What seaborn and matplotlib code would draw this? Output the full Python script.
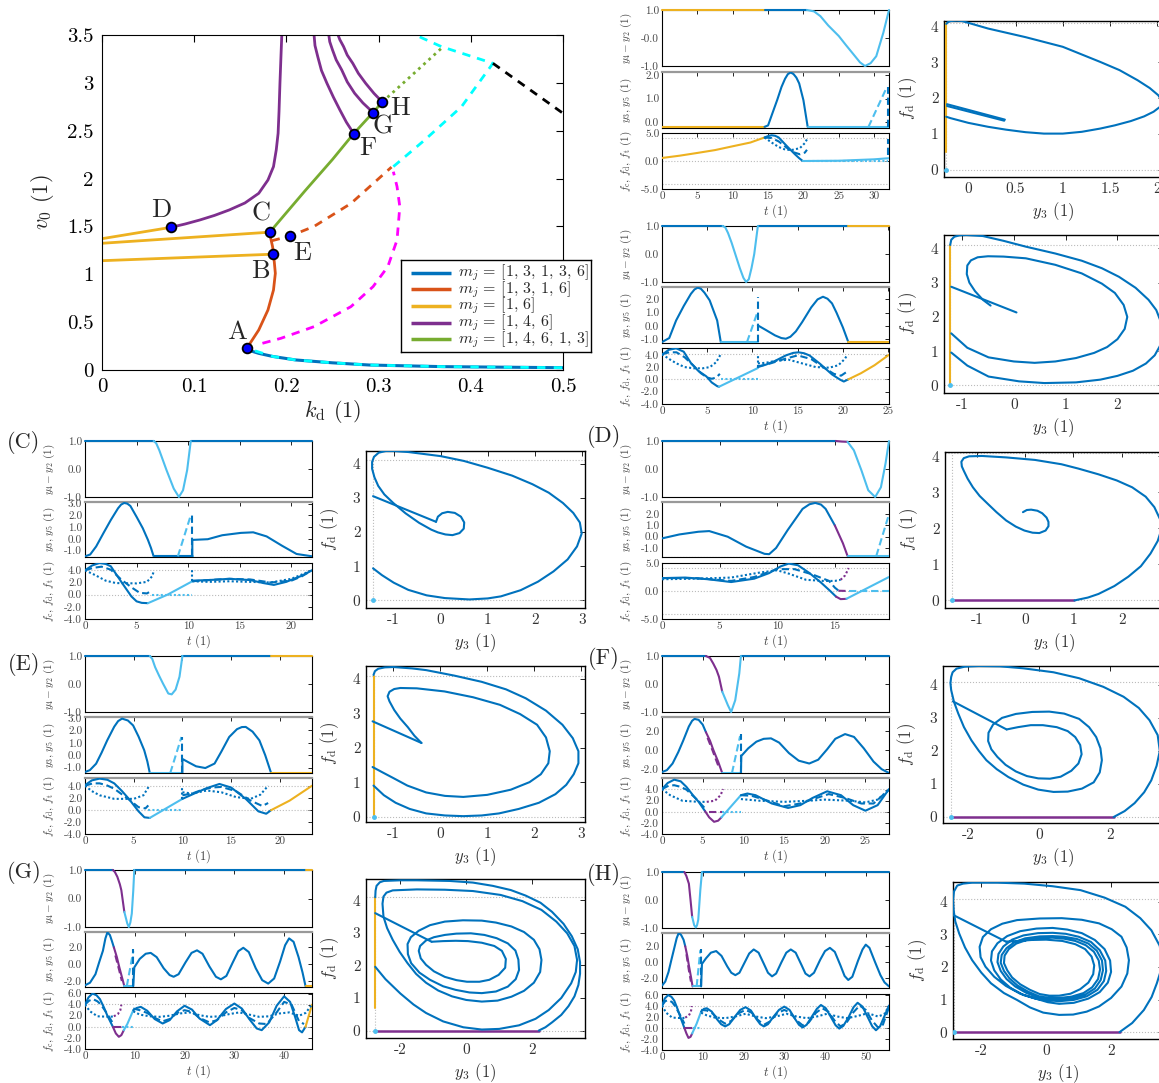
import matplotlib
matplotlib.use('Agg')
import matplotlib.pyplot as plt
import seaborn as sns

sns.set_theme(style='white')
plt.rcParams.update({
    'font.family': 'serif', 'font.serif': ['cmr10', 'DejaVu Serif'],
    'mathtext.fontset': 'cm', 'axes.unicode_minus': False,
    'axes.formatter.use_mathtext': True,
    'axes.edgecolor': 'black', 'axes.linewidth': 0.8,
    'xtick.color': 'black', 'ytick.color': 'black',
    'xtick.direction': 'in', 'ytick.direction': 'in',
})

W, H = 1159, 1083
DB = '#0072BD'; LB = '#4DBEEE'; YE = '#EDB120'; PU = '#7E2F8E'
OR = '#D95319'; GR = '#77AC30'; CY = '#00FFFF'; MG = '#FF00FF'
SOL = '-'; DAS = (0, (3.5, 1.8)); DOT = (0, (1, 1.1))

# ---------------- main bifurcation diagram data ----------------
kd_blue = [0.157, 0.163, 0.170, 0.185, 0.210, 0.250, 0.290, 0.370, 0.5]
v0_blue = [0.226, 0.195, 0.174, 0.142, 0.105, 0.075, 0.052, 0.035, 0.024]
kd_cy_lo = [0.166, 0.185, 0.210, 0.250, 0.290, 0.370, 0.5]
v0_cy_lo = [0.20, 0.142, 0.105, 0.075, 0.052, 0.035, 0.024]
kd_or = [0.157, 0.170, 0.180, 0.186, 0.188, 0.187, 0.186, 0.185, 0.183, 0.182]
v0_or = [0.226, 0.418, 0.627, 0.836, 1.010, 1.115, 1.212, 1.289, 1.376, 1.438]
kd_or_d = [0.184, 0.204, 0.230, 0.270, 0.314]
v0_or_d = [1.35, 1.40, 1.50, 1.74, 2.12]
kd_mg = [0.174, 0.194, 0.230, 0.270, 0.294, 0.310, 0.320, 0.323, 0.320, 0.316]
v0_mg = [0.279, 0.331, 0.453, 0.662, 0.871, 1.080, 1.358, 1.707, 1.916, 2.072]
kd_cy_hi = [0.316, 0.350, 0.390, 0.424, 0.368, 0.340]
v0_cy_hi = [2.125, 2.403, 2.752, 3.204, 3.379, 3.5]
kd_bk = [0.424, 0.5]
v0_bk = [3.204, 2.682]
kd_gr = [0.182, 0.22, 0.25, 0.273, 0.294, 0.304]
v0_gr = [1.44, 1.87, 2.20, 2.47, 2.69, 2.80]
kd_gr_dot = [0.304, 0.335, 0.368]
v0_gr_dot = [2.80, 3.07, 3.36]
kd_pu_D = [0.0745, 0.09, 0.106, 0.122, 0.138, 0.155, 0.170, 0.180, 0.186, 0.189, 0.191, 0.192, 0.193, 0.194, 0.195]
v0_pu_D = [1.49, 1.525, 1.567, 1.615, 1.672, 1.745, 1.846, 1.985, 2.125, 2.3, 2.473, 2.7, 2.995, 3.25, 3.5]
kd_pu_F = [0.273, 0.265, 0.258, 0.251, 0.244, 0.238, 0.234, 0.231, 0.230]
v0_pu_F = [2.47, 2.59, 2.717, 2.85, 2.995, 3.13, 3.274, 3.39, 3.5]
kd_pu_G = [0.294, 0.283, 0.274, 0.266, 0.260, 0.254, 0.250, 0.247, 0.246]
v0_pu_G = [2.69, 2.79, 2.891, 3.01, 3.135, 3.24, 3.344, 3.43, 3.5]
kd_pu_H = [0.304, 0.295, 0.286, 0.278, 0.272, 0.266, 0.262, 0.258, 0.256]
v0_pu_H = [2.80, 2.89, 2.995, 3.1, 3.204, 3.29, 3.379, 3.45, 3.5]
kd_ye1 = [0.0, 0.0745]; v0_ye1 = [1.372, 1.49]
kd_ye2 = [0.0, 0.182]; v0_ye2 = [1.324, 1.44]
kd_ye3 = [0.0, 0.186]; v0_ye3 = [1.142, 1.21]
pt_names = ['A', 'B', 'C', 'D', 'E', 'F', 'G', 'H']
pt_kd = [0.157, 0.186, 0.182, 0.0745, 0.204, 0.273, 0.294, 0.304]
pt_v0 = [0.226, 1.21, 1.44, 1.49, 1.40, 2.47, 2.69, 2.80]
lab_kd = [0.146, 0.172, 0.172, 0.0637, 0.217, 0.288, 0.305, 0.323]
lab_v0 = [0.40, 1.03, 1.637, 1.672, 1.219, 2.316, 2.54, 2.734]
legend_labels = [r'$m_j$ = [1, 3, 1, 3, 6]', r'$m_j$ = [1, 3, 1, 6]', r'$m_j$ = [1, 6]',
                 r'$m_j$ = [1, 4, 6]', r'$m_j$ = [1, 4, 6, 1, 3]']
legend_colors = [DB, OR, YE, PU, GR]

# ---------------- panel A ----------------
A1_ye = [(0, 1), (14.5, 1)]
A1_db = [(14.5, 1), (20.5, 1)]
A1_lb = [(20.5, 1), (21.5, 0.95), (22.4, 0.78), (23.5, 0.45), (25.0, 0.07), (26, -0.25), (27.1, -0.59),
         (28.0, -0.87), (28.7, -1.0), (29.5, -0.9), (30.3, -0.65), (31.3, 0.19), (32.1, 1.0)]
A2_ye = [(0, -0.21), (14.5, -0.21)]
A2_db = [(14.5, -0.21), (15.0, -0.15), (15.6, 0.36), (16.3, 0.95), (16.9, 1.5), (17.4, 1.85), (17.8, 2.05),
         (18.2, 2.12), (18.6, 2.05), (19.0, 1.9), (19.4, 1.65), (20.0, 0.93), (20.6, -0.21)]
A2_lb = [(20.6, -0.21), (32.1, -0.21)]
A2_lbd = [(29.2, -0.21), (31.7, 1.43)]
A2_dbd = [(32.0, -0.21), (32.0, 1.5)]
A3_ye = [(0, 0.54), (2.5, 0.95), (5, 1.44), (7.5, 1.95), (10, 2.63), (12.5, 3.3), (14.5, 4.2)]
A3_fc = [(14.5, 4.2), (15.0, 4.45), (15.5, 4.6), (16.0, 4.5), (16.5, 4.2), (17.1, 3.4), (17.7, 2.6), (18.8, 1.2),
         (19.4, 0.5), (19.9, 0.0)]
A3_fc_lb = [(19.9, 0), (25, 0.05), (30, 0.3), (32.1, 0.5)]
A3_fd = [(14.5, 4.2), (15.5, 4.1), (16.5, 3.5), (17.5, 2.5), (18.5, 1.6), (19.5, 1.2), (20.2, 1.5), (20.5, 2.0)]
A3_ft = [(14.5, 4.2), (15.5, 3.3), (16.5, 2.5), (17.5, 2.0), (18.5, 2.0), (19.5, 2.3), (20.2, 3.2), (20.6, 4.1)]
A3_zero = [(20.6, 0), (32, 0)]
A3_end = [(32.0, 1.0), (32.0, 4.0)]
PA_ye = [(-0.233, 0.5), (-0.233, 4.1)]
PA_loop = [(-0.233, 4.07), (-0.215, 4.12), (-0.186, 4.15), (-0.12, 4.16), (-0.067, 4.15), (0.209, 3.94),
           (0.605, 3.70), (1.0, 3.43), (1.395, 3.01), (1.6, 2.78), (1.79, 2.5), (1.92, 2.28), (2.01, 2.08),
           (2.05, 1.92), (2.03, 1.76), (1.96, 1.62), (1.86, 1.49), (1.72, 1.36), (1.55, 1.24), (1.395, 1.15),
           (1.2, 1.06), (1.0, 1.01), (0.8, 1.01), (0.605, 1.05), (0.4, 1.12), (0.209, 1.20), (0.0, 1.31),
           (-0.186, 1.44), (-0.233, 1.48)]
PA_l1 = [(-0.225, 1.83), (0.387, 1.40)]
PA_l2 = [(-0.225, 1.78), (0.38, 1.37)]

# ---------------- panel B ----------------
B1_db1 = [(0, 1), (6.7, 1)]
B1_db2 = [(10.6, 1), (20.6, 1)]
B1_lb = [(6.7, 1), (7.0, 0.95), (7.3, 0.75), (7.7, 0.4), (8.1, 0.0), (8.6, -0.5), (9.0, -0.85), (9.3, -1),
         (9.6, -0.9), (9.9, -0.5), (10.2, 0.0), (10.4, 0.5), (10.6, 1.0)]
B1_ye = [(20.6, 1), (25.1, 1)]
B2_db1 = [(0, -1.2), (0.8, -0.9), (1.56, 0.42), (2.4, 1.5), (3.2, 2.42), (3.6, 2.75), (3.95, 2.88), (4.3, 2.8),
          (4.7, 2.5), (5.27, 1.93), (6.1, 0.42), (6.5, -1.2)]
B2_lb = [(6.5, -1.2), (10.6, -1.2)]
B2_lbd = [(9.4, -1.2), (10.5, 0.93)]
B2_dbd = [(10.6, -1.2), (10.6, 2.2)]
B2_db2 = [(10.6, 0.05), (11.5, -0.3), (12.5, -0.7), (13.2, -0.9), (13.7, -0.95), (14.2, -0.8), (14.8, -0.4),
          (15.5, 0.3), (16.5, 1.4), (17.2, 2.0), (17.8, 2.2), (18.3, 2.05), (18.8, 1.7), (19.3, 1.0), (20.0, -0.1),
          (20.6, -1.2)]
B2_ye = [(20.6, -1.2), (25.1, -1.2)]
B3_fc1 = [(0, 4.0), (0.74, 4.8), (1.56, 5.05), (2.4, 4.5), (3.2, 2.65), (4.0, 1.4), (4.9, 0.49), (5.5, -0.5),
          (6.1, -1.1), (6.3, -1.2)]
B3_fc_lb = [(6.3, -1.2), (10.6, 1.84)]
B3_fc2 = [(10.6, 2.0), (11.5, 2.4), (12.5, 3.0), (13.7, 3.9), (14.5, 4.3), (15.1, 4.4), (15.7, 4.25), (16.3, 3.9),
          (17.5, 2.5), (18.8, 0.8), (19.7, -0.05), (20.1, -0.35), (20.6, 0.0)]
B3_ye = [(20.6, 0.0), (22, 1.0), (23.5, 2.3), (25.1, 4.0)]
B3_fd1 = [(0, 4.1), (0.8, 4.4), (1.6, 4.4), (2.5, 3.6), (3.5, 2.2), (4.3, 1.0), (5.0, 0.3), (5.5, 0.1), (6.0, 0.3),
          (6.4, 0.9)]
B3_zero = [(6.5, 0), (10.6, 0)]
B3_fd2 = [(10.6, 2.1), (12, 2.6), (13.5, 3.3), (15, 3.9), (16.5, 3.3), (17.8, 2.0), (19, 0.9), (19.8, 0.6),
          (20.4, 1.2)]
B3_ft1 = [(0, 4.1), (0.8, 3.3), (1.6, 2.6), (2.5, 2.0), (3.5, 1.8), (4.5, 1.8), (5.3, 2.0), (6.0, 2.8), (6.5, 4.1)]
B3_ftj = [(10.6, 2.0), (10.6, 4.1)]
B3_ft2 = [(10.6, 2.6), (11.5, 2.7), (12.5, 3.0), (14, 3.2), (15.5, 2.6), (17, 2.0), (18.5, 1.9), (19.5, 2.3),
          (20.2, 3.3), (20.5, 4.0)]
PB_ye = [(-1.23, 0), (-1.23, 4.1)]
PB_outer = [(-1.23, 4.1), (-1.21, 4.25), (-1.15, 4.34), (-1.05, 4.38), (-0.92, 4.39), (-0.6, 4.36), (-0.2, 4.22),
            (0.23, 4.05), (0.8, 3.85), (1.31, 3.64), (1.7, 3.42), (2.03, 3.17), (2.35, 2.85), (2.6, 2.5),
            (2.75, 2.2), (2.84, 1.85), (2.86, 1.5), (2.82, 1.15), (2.72, 0.88), (2.55, 0.64), (2.3, 0.43),
            (2.0, 0.28), (1.67, 0.17), (1.2, 0.09), (0.59, 0.07), (0.1, 0.12), (-0.49, 0.26), (-0.9, 0.58),
            (-1.21, 0.96)]
PB_inner = [(-0.45, 2.33), (-0.6, 2.5), (-0.75, 2.75), (-0.86, 3.0), (-0.91, 3.25), (-0.9, 3.5), (-0.83, 3.65),
            (-0.7, 3.74), (-0.5, 3.77), (-0.2, 3.76), (0.23, 3.71), (0.8, 3.52), (1.31, 3.27), (1.7, 2.97),
            (1.95, 2.7), (2.12, 2.35), (2.19, 2.0), (2.14, 1.65), (2.0, 1.35), (1.8, 1.12), (1.55, 0.95),
            (1.2, 0.8), (0.8, 0.7), (0.4, 0.66), (0.0, 0.7), (-0.49, 0.82), (-0.9, 1.1), (-1.21, 1.52)]
PB_tail = [(-1.21, 2.88), (0.05, 2.13)]

# ---------------- panel C ----------------
C1_db1 = [(0, 1), (6.65, 1)]
C1_db2 = [(10.25, 1), (22, 1)]
C1_lb = [(6.65, 1), (6.9, 0.92), (7.2, 0.67), (7.9, -0.04), (8.6, -0.7), (9.1, -1), (9.5, -0.76), (9.9, -0.04),
         (10.25, 1)]
C2_db1 = [(0, -1.5), (0.5, -1.35), (1.08, -0.66), (1.8, 0.5), (2.5, 1.6), (3.2, 2.6), (3.5, 2.92), (3.8, 3.06),
          (4.1, 3.0), (4.4, 2.8), (5.0, 1.87), (5.6, 0.9), (6.1, -0.1), (6.4, -0.8), (6.65, -1.5)]
C2_flat = [(6.65, -1.5), (10.4, -1.5)]
C2_lbd = [(9.0, -1.5), (10.25, 2.0)]
C2_dbd = [(10.4, -1.5), (10.4, 2.3)]
C2_db2 = [(10.4, -1.5), (10.4, -0.1), (11.9, -0.04), (13.3, 0.3), (15.1, 0.5), (16.3, 0.55), (17.6, 0.2),
          (19.1, -0.6), (20.5, -1.3), (22, -1.5)]
C3_fc1 = [(0, 4.0), (0.7, 4.8), (1.4, 5.2), (2.0, 5.05), (2.5, 4.66), (3.6, 1.9), (4.5, -0.3), (5.0, -1.1),
          (5.5, -1.35), (6.1, -1.4)]
C3_fc_lb = [(6.1, -1.4), (8.0, 0.0), (10.4, 2.2)]
C3_fc2 = [(10.4, 2.3), (12, 2.4), (14, 2.6), (16, 2.4), (17.3, 1.9), (18.3, 1.6), (19.5, 2.1), (21, 3.1), (22, 4.0)]
C3_fd1 = [(0, 4.0), (0.8, 4.4), (1.6, 4.6), (2.5, 4.1), (3.5, 2.5), (4.5, 1.2), (5.3, 0.3), (6.0, 0.2), (6.4, 0.6)]
C3_zero = [(6.5, 0), (10.4, 0)]
C3_fd2 = [(10.4, 2.2), (12, 2.4), (14, 2.6), (16, 2.5), (18, 2.0), (20, 2.3), (21, 3.0), (22, 4.0)]
C3_ft1 = [(0, 4.0), (1.0, 3.2), (2.0, 2.3), (3.0, 1.9), (5.0, 1.85), (6.0, 2.1), (6.5, 3.0), (6.7, 4.0)]
C3_ftj = [(10.4, 2.2), (10.4, 4.1)]
C3_ft2 = [(10.4, 2.2), (12, 2.1), (14, 2.2), (16, 2.1), (18, 2.0), (20, 2.6), (22, 4.0)]
PC_loop = [(-1.44, 0.94), (-1.25, 0.74), (-1.0, 0.52), (-0.69, 0.31), (-0.3, 0.15), (0.09, 0.07), (0.61, 0.03),
           (1.0, 0.06), (1.28, 0.12), (1.7, 0.3), (2.07, 0.55), (2.4, 0.85), (2.7, 1.2), (2.9, 1.58), (3.0, 1.96),
           (2.96, 2.28), (2.82, 2.56), (2.6, 2.85), (2.3, 3.15), (1.95, 3.4), (1.52, 3.65), (1.0, 3.88),
           (0.49, 4.08), (0.0, 4.22), (-0.69, 4.34), (-1.0, 4.37), (-1.17, 4.37), (-1.32, 4.32), (-1.42, 4.2),
           (-1.46, 4.05), (-1.46, 3.85), (-1.41, 3.6), (-1.33, 3.35), (-1.2, 3.1), (-1.01, 2.85), (-0.75, 2.55),
           (-0.46, 2.27), (-0.2, 2.07), (-0.06, 1.99), (0.1, 1.93), (0.25, 1.91), (0.4, 1.97), (0.49, 2.1),
           (0.5, 2.28), (0.43, 2.45), (0.3, 2.56), (0.15, 2.59), (0.03, 2.55), (-0.06, 2.45), (-0.1, 2.3)]
PC_tail = [(-1.44, 3.05), (-0.1, 2.3)]

# ---------------- panel D ----------------
D1_db = [(0, 1), (15.1, 1)]
D1_pu = [(15.1, 1), (15.6, 0.98), (16.1, 0.97)]
D1_lb = [(16.1, 0.97), (16.65, 0.67), (17.3, -0.04), (17.9, -0.76), (18.5, -1), (19.0, -0.65), (19.4, 0.2),
         (19.7, 1)]
D2_db = [(0, -0.15), (1.5, 0.2), (3.15, 0.44), (4.1, 0.5), (5.7, 0.0), (7.3, -0.88), (8.9, -1.52), (9.3, -1.55),
         (9.9, -1.0), (10.9, 0.58), (12.2, 2.47), (12.8, 2.88), (13.3, 3.0), (13.8, 2.85), (14.2, 2.47), (15.0, 1.0)]
D2_pu = [(15.0, 1.0), (15.7, -0.58), (16.1, -1.7)]
D2_lb = [(16.1, -1.7), (19.7, -1.7)]
D2_lbd = [(18.6, -1.7), (19.7, 2.0)]
D3_fc = [(0, 2.3), (2, 2.4), (4, 2.1), (6, 1.6), (8, 2.2), (9.3, 3.2), (10.3, 4.4), (11.0, 4.9), (11.8, 4.6),
         (12.8, 3.2), (13.8, 1.5), (14.6, 0.0), (15.1, -1.0)]
D3_fc_pu = [(15.1, -1.0), (15.5, -1.45), (16.0, -1.4)]
D3_fc_lb = [(16.0, -1.4), (19.7, 2.5)]
D3_fd = [(0, 2.3), (3, 2.3), (6, 1.8), (8, 2.5), (10, 3.9), (11.5, 3.9), (13, 3.0), (14.5, 1.8), (15, 0.6),
         (15.3, 0.1)]
D3_fd_pu = [(15.3, 0.05), (16.2, 0.0)]
D3_ft = [(0, 2.1), (3, 2.2), (6, 2.4), (8.5, 3.3), (10, 3.7), (11, 3.1), (12.5, 2.0), (14, 1.8), (15, 1.8),
         (15.5, 2.0)]
D3_ft_pu = [(15.5, 2.0), (15.9, 2.8), (16.2, 4.1)]
D3_zero = [(16.2, 0), (19.7, 0)]
PD_pu = [(-1.53, 0), (1.02, 0)]
PD_loop = [(1.02, 0), (1.3, 0.08), (1.52, 0.18), (1.85, 0.4), (2.14, 0.66), (2.4, 0.95), (2.6, 1.3), (2.75, 1.65),
           (2.82, 1.94), (2.8, 2.25), (2.68, 2.59), (2.5, 2.88), (2.22, 3.14), (1.9, 3.33), (1.52, 3.5),
           (1.1, 3.66), (0.75, 3.78), (0.2, 3.9), (-0.4, 3.97), (-0.9, 4.01), (-1.17, 4.0), (-1.28, 3.95),
           (-1.33, 3.85), (-1.32, 3.72), (-1.28, 3.6), (-1.2, 3.38), (-1.09, 3.14), (-0.95, 2.9), (-0.78, 2.68),
           (-0.6, 2.45), (-0.4, 2.22), (-0.2, 2.05), (-0.02, 1.94), (0.15, 1.88), (0.29, 1.87), (0.42, 1.94),
           (0.48, 2.06), (0.48, 2.18), (0.44, 2.3), (0.35, 2.42), (0.25, 2.49), (0.12, 2.52), (0.03, 2.51),
           (-0.05, 2.45)]

# ---------------- panel E ----------------
E1_db1 = [(0, 1), (6.65, 1)]
E1_db2 = [(10, 1), (19.1, 1)]
E1_lb = [(6.65, 1), (6.9, 0.9), (7.2, 0.6), (7.6, 0.3), (8.0, 0.02), (8.55, -0.34), (8.9, -0.37), (9.3, -0.2),
         (9.7, 0.26), (10.0, 1)]
E1_ye = [(19.1, 1), (23.3, 1)]
E2_db1 = [(0, -1.35), (0.5, -1.2), (1.14, -0.68), (1.7, 0.2), (2.28, 1.2), (3.0, 2.3), (3.4, 2.75), (3.8, 2.95),
          (4.4, 2.8), (4.94, 2.4), (5.5, 1.5), (6.08, 0.4), (6.4, -0.5), (6.65, -1.43)]
E2_lb = [(6.65, -1.43), (10, -1.43)]
E2_lbd = [(8.75, -1.43), (9.9, 1.47)]
E2_dbd = [(10, -1.43), (10, 1.5)]
E2_db2 = [(10, -1.43), (10, -0.3), (10.7, -0.6), (11.4, -0.89), (12.35, -1.03), (13.3, -0.67), (14.0, 0.3),
          (14.8, 1.47), (15.6, 2.1), (16.1, 2.27), (16.5, 2.28), (17.2, 1.9), (17.9, 1.2), (18.5, 0.0),
          (19.1, -1.43)]
E2_ye = [(19.1, -1.43), (23.3, -1.43)]
E3_fc1 = [(0, 4.2), (0.7, 5.0), (1.5, 5.3), (2.3, 5.1), (3, 4.5), (3.8, 3.2), (4.5, 1.9), (5.5, -0.2), (6.1, -1.2),
          (6.65, -1.3)]
E3_fc_lb = [(6.65, -1.3), (10, 1.9)]
E3_fc2 = [(10, 1.9), (11.5, 3.0), (12.5, 3.7), (13.8, 4.4), (15, 3.8), (16.5, 1.9), (17.8, -0.2), (18.6, -0.6),
          (19.1, 0.0)]
E3_ye = [(19.1, 0.0), (21, 1.6), (23.3, 4.1)]
E3_fd1 = [(0, 4.1), (0.8, 4.5), (1.5, 4.5), (2.2, 4.2), (3, 3.6), (4.5, 1.8), (5.5, 0.5), (6.2, 0.3), (6.5, 0.8)]
E3_zero = [(6.5, 0), (10, 0)]
E3_fd2 = [(10, 2.5), (11, 2.8), (12, 3.4), (13, 3.8), (14, 3.9), (15.5, 3.2), (17, 1.6), (18.2, 0.7), (18.8, 1.2)]
E3_ft1 = [(0, 4.1), (0.7, 3.2), (1.5, 2.5), (3, 1.9), (5, 1.9), (6, 2.5), (6.6, 4.1)]
E3_ftj = [(10, 1.9), (10, 4.1)]
E3_ft2 = [(10, 3.0), (11, 2.8), (12.5, 3.3), (14, 3.0), (15.5, 2.2), (17, 1.9), (18, 2.6), (18.8, 4.1)]
PE_ye = [(-1.42, 0), (-1.42, 4.1)]
PE_outer = [(-1.42, 4.12), (-1.39, 4.23), (-1.32, 4.3), (-1.18, 4.34), (-1.0, 4.35), (-0.6, 4.31), (-0.3, 4.26),
            (0.3, 4.1), (0.88, 3.92), (1.4, 3.7), (1.82, 3.44), (2.25, 3.08), (2.6, 2.67), (2.82, 2.28),
            (2.94, 1.9), (2.94, 1.55), (2.84, 1.23), (2.68, 0.92), (2.45, 0.65), (2.1, 0.4), (1.67, 0.22),
            (1.25, 0.09), (0.88, 0.03), (0.49, 0.01), (0.1, 0.03), (-0.3, 0.09), (-0.65, 0.22), (-0.95, 0.4),
            (-1.2, 0.62), (-1.42, 0.9)]
PE_mid = [(-0.4, 2.14), (-0.55, 2.35), (-0.69, 2.6), (-0.85, 2.85), (-0.98, 3.1), (-1.08, 3.35), (-1.12, 3.5),
          (-1.08, 3.63), (-0.98, 3.71), (-0.85, 3.74), (-0.5, 3.73), (0.09, 3.64), (0.7, 3.47), (1.27, 3.25),
          (1.7, 2.98), (2.06, 2.67), (2.25, 2.3), (2.33, 1.9), (2.3, 1.55), (2.14, 1.23), (1.9, 1.0), (1.5, 0.78),
          (1.0, 0.63), (0.49, 0.57), (0.1, 0.6), (-0.3, 0.7), (-0.7, 0.9), (-1.0, 1.12), (-1.25, 1.3),
          (-1.44, 1.44)]
PE_tail = [(-1.44, 2.77), (-0.4, 2.14)]

# ---------------- panel F ----------------
F1_db1 = [(0, 1), (5.4, 1)]
F1_db2 = [(9.7, 1), (27.9, 1)]
F1_pu = [(5.4, 1), (5.9, 0.93), (6.3, 0.73), (6.7, 0.5), (7.0, 0.26), (7.4, -0.27)]
F1_lb = [(7.4, -0.27), (8.1, -0.76), (8.5, -1), (9.0, -0.58), (9.5, 0.38), (9.7, 1)]
F2_db1 = [(0, -2.3), (0.6, -2.1), (1.3, -1.4), (2.0, -0.2), (2.6, 1.0), (3.3, 2.5), (3.7, 3.1), (4.0, 3.3),
          (4.5, 3.2), (5.0, 2.7), (5.4, 1.9)]
F2_pu = [(5.4, 1.9), (5.9, 1.0), (6.3, 0.05), (6.9, -1.2), (7.4, -2.4)]
F2_pud = [(5.6, 1.3), (6.2, 0.0), (6.9, -1.6)]
F2_lb = [(7.4, -2.4), (9.7, -2.4)]
F2_lbd = [(8.6, -2.4), (9.6, 1.5)]
F2_dbd = [(9.7, -2.4), (9.7, 1.7)]
F2_db2 = [(9.7, -2.4), (9.75, -0.6), (10.6, 0.2), (11.6, 0.9), (12.5, 1.2), (13.4, 1.25), (14.4, 0.8), (15.6, -0.3),
          (16.8, -1.1), (18.1, -1.4), (19.2, -1.0), (20.3, 0.1), (21.3, 1.2), (22.5, 1.7), (23.6, 1.4),
          (24.8, 0.2), (26.0, -1.2), (27.0, -2.0), (27.9, -2.4)]
F3_fc1 = [(0, 4.1), (0.7, 5.2), (1.5, 5.8), (2.3, 5.5), (3, 4.5), (3.8, 3.0), (4.5, 1.8), (5.3, 0.1)]
F3_fc_pu = [(5.3, 0.1), (5.8, -1.0), (6.4, -1.8), (6.9, -1.6), (7.3, -1.0)]
F3_fc_lb = [(7.3, -1.0), (9.7, 3.0)]
F3_fc2 = [(9.7, 3.0), (10.5, 3.3), (11.5, 3.0), (13.5, 1.5), (15.5, 0.7), (17, 1.2), (18.5, 2.5), (20.3, 3.7),
          (22, 3.0), (23.5, 1.2), (25, 0.2), (26.5, 1.2), (27.9, 4.1)]
F3_fd1 = [(0, 4.1), (0.8, 4.7), (1.5, 4.8), (2.3, 4.5), (3, 4.0), (4.3, 2.2), (5.3, 0.6)]
F3_fd_pu = [(5.8, 0), (7.4, 0)]
F3_zero = [(7.4, 0), (9.7, 0)]
F3_fd2 = [(9.7, 3.0), (11, 2.9), (13, 2.0), (15, 1.0), (17, 1.5), (19, 2.5), (20.5, 3.2), (22.5, 2.5), (24.5, 1.5),
          (26, 1.5), (27.9, 4.0)]
F3_ft1 = [(0, 4.1), (1, 3.0), (2.5, 2.0), (4.5, 1.8), (5.5, 1.8)]
F3_ft_pu = [(5.5, 1.8), (6.5, 2.0), (7.2, 3.0), (7.5, 4.1)]
F3_ft2 = [(9.7, 2.3), (12, 2.0), (15, 1.8), (18, 2.0), (20, 2.2), (23, 2.0), (25, 1.7), (26.5, 2.2), (27.9, 4.0)]
PF_pu = [(-2.48, 0), (2.09, 0)]
PF_loop = [(2.09, 0), (2.4, 0.18), (2.68, 0.42), (2.95, 0.75), (3.15, 1.11), (3.3, 1.55), (3.39, 2.0), (3.33, 2.48),
           (3.1, 2.93), (2.8, 3.3), (2.37, 3.64), (1.8, 3.94), (1.12, 4.2), (0.4, 4.38), (-0.45, 4.5), (-1.1, 4.56),
           (-1.7, 4.57), (-2.1, 4.55), (-2.33, 4.49), (-2.44, 4.38), (-2.48, 4.24), (-2.5, 4.05), (-2.48, 3.84),
           (-2.4, 3.48), (-2.28, 3.13), (-2.12, 2.72), (-1.91, 2.32), (-1.7, 2.0), (-1.49, 1.72), (-1.2, 1.45),
           (-0.87, 1.21), (-0.45, 0.98), (-0.03, 0.83), (0.4, 0.76), (0.8, 0.77), (1.2, 0.86), (1.53, 1.05),
           (1.7, 1.35), (1.76, 1.72), (1.72, 2.08), (1.6, 2.42), (1.4, 2.72), (1.12, 2.97), (0.7, 3.13),
           (0.28, 3.19), (-0.2, 3.18), (-0.66, 3.12), (-1.05, 3.0), (-1.3, 2.8), (-1.43, 2.55), (-1.44, 2.3),
           (-1.35, 2.05), (-1.18, 1.82), (-0.95, 1.58), (-0.66, 1.38), (-0.35, 1.24), (-0.03, 1.17), (0.3, 1.16),
           (0.6, 1.22), (0.9, 1.4), (1.1, 1.62), (1.19, 1.9), (1.15, 2.18), (1.01, 2.42), (0.8, 2.6), (0.49, 2.72),
           (0.1, 2.78), (-0.24, 2.78), (-0.6, 2.72), (-0.92, 2.65)]
PF_tail = [(-2.43, 3.5), (-0.92, 2.65)]

# ---------------- panel G ----------------
G1_db1 = [(0, 1), (5.6, 1)]
G1_db2 = [(9.9, 1), (44.3, 1)]
G1_pu = [(5.6, 1), (6.0, 0.93), (6.5, 0.76), (7.0, 0.5), (7.3, 0.29), (7.9, -0.47)]
G1_lb = [(7.9, -0.47), (8.5, -0.88), (8.8, -1), (9.1, -0.85), (9.4, -0.53), (9.7, 0.29), (9.9, 1)]
G1_ye = [(44.3, 1), (45.6, 1)]
G2_db1 = [(0, -2.5), (1.0, -2.2), (2.1, -1.2), (2.9, 0.3), (3.6, 1.55), (4.1, 3.0), (4.5, 3.7), (5.0, 3.4),
          (5.4, 2.7), (5.8, 1.95)]
G2_pu = [(5.8, 1.95), (6.4, 0.8), (6.9, -0.4), (7.4, -1.5), (7.9, -2.6)]
G2_pud = [(6.1, 1.0), (6.9, -0.8), (7.4, -2.0)]
G2_lb = [(7.9, -2.6), (9.7, -2.6)]
G2_lbd = [(8.4, -2.6), (9.7, 1.5)]
G2_dbd = [(9.7, -2.6), (9.7, 1.7)]
G2_db2 = [(9.7, -2.6), (9.9, -0.4), (11.0, 0.6), (12.2, 1.2), (13.2, 1.3), (14.4, 0.8), (15.8, -0.5), (17.0, -1.3),
          (17.8, -1.5), (18.8, -1.2), (20.2, 0.2), (21.4, 1.3), (22.5, 1.6), (23.6, 1.2), (25, -0.3), (26.3, -1.5),
          (27.3, -1.8), (28.4, -1.4), (29.7, 0.2), (30.8, 1.5), (31.8, 1.9), (32.9, 1.4), (34.3, -0.5),
          (35.6, -1.9), (36.8, -2.3), (38, -1.7), (39.2, 0.3), (40.2, 2.2), (41.0, 3.0), (41.9, 2.6), (42.9, 0.8),
          (43.7, -1.0), (44.3, -2.6)]
G2_ye = [(44.3, -2.6), (45.6, -2.6)]
G3_fc1 = [(0, 4.0), (0.7, 5.3), (1.5, 6.0), (2.3, 5.7), (3, 5.0), (3.8, 3.5), (4.5, 2.0), (5.6, 0.0)]
G3_fc_pu = [(5.6, 0.0), (6.2, -1.2), (6.8, -1.8), (7.3, -1.5), (7.8, -0.6)]
G3_fc_lb = [(7.8, -0.6), (8.5, 0.5), (9.7, 3.0)]
G3_fc2 = [(9.7, 3.0), (10.4, 3.4), (11.2, 3.6), (12.5, 2.9), (14, 1.4), (15.6, 0.6), (17, 1.2), (18.5, 2.8),
          (20, 3.8), (21.5, 3.1), (23, 1.5), (25.1, 0.3), (26.5, 1.2), (28.3, 3.2), (30, 4.2), (31.5, 3.3),
          (33, 1.4), (34.5, -0.3), (35.5, -0.6), (37, 0.8), (38.5, 3.8), (40, 5.5), (41.2, 4.5), (42.2, 1.8),
          (43, -0.6), (43.6, -1.0), (44.3, 0.0)]
G3_ye = [(44.3, 0.0), (45.6, 4.0)]
G3_fd1 = [(0, 4.0), (0.8, 4.7), (1.6, 5.0), (2.5, 4.6), (3.2, 4.0), (4.5, 2.3), (5.5, 0.8)]
G3_fd_pu = [(5.8, 0), (7.5, 0)]
G3_zero = [(7.5, 0), (9.7, 0)]
G3_fd2 = [(9.7, 3.3), (11, 3.0), (12.5, 2.5), (14, 1.6), (15.6, 1.0), (17, 1.4), (18.5, 2.5), (20, 3.0),
          (21.5, 2.7), (23, 1.6), (25, 0.8), (26.5, 1.2), (28.3, 2.6), (30, 3.4), (31.5, 3.0), (33, 1.6),
          (35, 0.6), (36.5, 0.5), (38.5, 2.6), (40, 4.5), (41.5, 4.0), (43, 1.0), (44.0, 0.5)]
G3_ft1 = [(0, 4.0), (1, 2.8), (2.5, 1.9), (5, 1.8), (5.8, 1.9)]
G3_ft_pu = [(5.8, 1.9), (6.6, 2.3), (7.1, 3.0), (7.3, 4.0)]
G3_ft2 = [(9.7, 2.8), (11, 2.2), (13, 1.9), (15, 1.8), (17, 2.0), (19, 2.4), (21, 2.6), (23, 2.1), (25, 1.8),
          (27, 1.9), (29, 2.3), (31, 2.6), (33, 2.2), (35, 1.8), (37, 1.9), (39, 2.4), (41, 2.6), (43, 2.0),
          (44.3, 2.5), (45, 3.3), (45.6, 4.0)]
PG_ye = [(-2.76, 0.7), (-2.76, 4.1)]
PG_pu = [(-2.76, 0), (2.2, 0)]
PG_outer = [(-2.76, 4.1), (-2.75, 4.3), (-2.72, 4.45), (-2.62, 4.56), (-2.5, 4.6), (-2.0, 4.62), (-1.5, 4.62),
            (-0.5, 4.6), (0.2, 4.55), (0.8, 4.45), (1.35, 4.32), (1.8, 4.15), (2.25, 3.93), (2.6, 3.65),
            (2.95, 3.28), (3.2, 2.9), (3.38, 2.5), (3.45, 2.1), (3.45, 1.75), (3.4, 1.4), (3.28, 1.05), (3.1, 0.75),
            (2.88, 0.48), (2.6, 0.25), (2.4, 0.1), (2.2, 0.0)]
PG_loops = [(-2.76, 1.96), (-2.45, 1.58), (-2.0, 1.14), (-1.6, 0.8), (-1.22, 0.54), (-0.7, 0.28), (-0.09, 0.1),
            (0.47, 0.03), (1.0, 0.05), (1.6, 0.16), (2.1, 0.36), (2.5, 0.63), (2.88, 1.0), (3.18, 1.45),
            (3.32, 1.8), (3.36, 2.17), (3.28, 2.6), (3.06, 2.99), (2.73, 3.35), (2.28, 3.71), (1.7, 3.98),
            (1.04, 4.17), (0.2, 4.29), (-0.65, 4.33), (-1.5, 4.34), (-2.23, 4.31), (-2.42, 4.24), (-2.51, 4.12),
            (-2.54, 3.9), (-2.51, 3.5), (-2.4, 3.15), (-2.23, 2.79), (-2.02, 2.42), (-1.78, 2.07), (-1.52, 1.74),
            (-1.22, 1.47), (-0.85, 1.23), (-0.43, 1.05), (0.0, 0.94), (0.47, 0.89), (0.95, 0.92), (1.37, 1.04),
            (1.75, 1.22), (2.05, 1.47), (2.24, 1.8), (2.28, 2.17), (2.22, 2.5), (2.05, 2.79), (1.75, 3.03),
            (1.37, 3.2), (0.9, 3.32), (0.47, 3.38), (-0.1, 3.39), (-0.65, 3.35), (-1.1, 3.24), (-1.44, 3.07),
            (-1.68, 2.87), (-1.78, 2.66), (-1.77, 2.35), (-1.67, 2.07), (-1.42, 1.78), (-1.1, 1.56), (-0.7, 1.36),
            (-0.32, 1.25), (0.1, 1.17), (0.47, 1.15), (0.9, 1.2), (1.26, 1.35), (1.5, 1.58), (1.6, 1.86),
            (1.58, 2.18), (1.49, 2.46), (1.26, 2.68), (0.92, 2.84), (0.55, 2.94), (0.14, 2.99), (-0.3, 2.98),
            (-0.65, 2.94), (-0.98, 2.87), (-1.22, 2.77), (-1.4, 2.6), (-1.44, 2.45), (-1.38, 2.22), (-1.22, 2.02),
            (-0.98, 1.82), (-0.65, 1.65), (-0.3, 1.55), (0.02, 1.5), (0.4, 1.5), (0.7, 1.56), (0.98, 1.71),
            (1.18, 1.93), (1.2, 2.2), (1.08, 2.45), (0.85, 2.6), (0.47, 2.7), (0.05, 2.75), (-0.32, 2.76),
            (-0.7, 2.75), (-1.05, 2.73)]
PG_tail = [(-2.76, 3.61), (-1.05, 2.73)]

# ---------------- panel H ----------------
H1_db1 = [(0, 1), (5.5, 1)]
H1_db2 = [(9.8, 1), (55.7, 1)]
H1_pu = [(5.5, 1), (6.0, 0.85), (6.6, 0.58), (7.0, 0.0), (7.4, -0.6)]
H1_lb = [(7.4, -0.6), (7.9, -0.9), (8.3, -0.98), (8.6, -0.9), (8.9, -0.7), (9.4, 0.35), (9.8, 1)]
H2_db1 = [(0, -2.9), (0.8, -2.4), (1.6, -1.2), (2.3, 0.3), (3.0, 1.75), (3.6, 3.0), (4.1, 3.65), (4.7, 3.4),
          (5.3, 2.8), (5.7, 2.0)]
H2_pu = [(5.7, 2.0), (6.2, 0.8), (6.6, -0.4), (7.1, -1.8), (7.5, -3.0)]
H2_pud = [(6.0, 1.0), (6.6, -1.0), (7.1, -2.4)]
H2_lb = [(7.5, -3.0), (9.6, -3.0)]
H2_lbd = [(8.5, -3.0), (9.4, 1.5)]
H2_dbd = [(9.6, -3.0), (9.6, 1.6)]
H2_db2 = [(9.6, -3.0), (9.8, -0.2), (10.8, 0.5), (12, 1.2), (13.3, 1.4), (14.6, 0.8), (16, -0.5), (17, -1.3),
          (18, -1.6), (19, -1.3), (20.3, 0.0), (21.4, 1.1), (22.5, 1.6), (23.7, 1.2), (25, -0.2), (26, -1.3),
          (27, -1.75), (28, -1.4), (29.3, 0.0), (30.5, 1.2), (31.6, 1.6), (32.8, 1.2), (34.2, -0.3), (35.2, -1.4),
          (36.2, -1.75), (37.3, -1.3), (38.8, 0.3), (40, 1.4), (41.2, 1.8), (42.4, 1.3), (43.8, -0.4),
          (44.8, -1.7), (45.7, -2.2), (46.7, -1.8), (48.1, 0.2), (49.2, 1.6), (50, 2.2), (50.9, 1.8), (52.3, 0.0),
          (53.6, -1.6), (54.6, -2.5), (55.7, -3.0)]
H3_fc1 = [(0, 4.1), (0.7, 5.4), (1.5, 6.0), (2.3, 5.7), (3, 5.0), (3.8, 3.5), (4.5, 2.0), (5.5, 0.0)]
H3_fc_pu = [(5.5, 0.0), (6.0, -1.0), (6.5, -1.8), (7.0, -1.6), (7.4, -1.0)]
H3_fc_lb = [(7.4, -1.0), (8.5, 0.8), (9.6, 3.0)]
H3_fc2 = [(9.6, 3.0), (10.3, 3.5), (11, 3.6), (12.2, 3.0), (13.5, 1.6), (14.5, 0.7), (15.5, 0.3), (16.5, 0.7),
          (17.8, 2.0), (19.2, 3.3), (20.5, 3.8), (21.8, 3.2), (23.2, 1.6), (24.1, 0.7), (25, 0.3), (26, 0.7),
          (27.3, 2.0), (28.7, 3.3), (30, 3.9), (31.3, 3.3), (32.7, 1.6), (33.6, 0.6), (34.5, 0.1), (35.5, 0.6),
          (36.7, 2.0), (38, 3.5), (39, 4.2), (40.2, 3.6), (41.6, 1.8), (42.6, 0.5), (43.5, -0.1), (44.5, 0.4),
          (45.8, 2.0), (47, 3.8), (48, 4.6), (49.2, 3.9), (50.6, 1.8), (51.6, 0.3), (52.5, -0.4), (53.5, 0.3),
          (54.6, 2.2), (55.7, 4.1)]
H3_fd1 = [(0, 4.1), (0.8, 4.9), (1.6, 5.1), (2.5, 4.7), (3.2, 4.0), (4.5, 2.3), (5.5, 0.8)]
H3_fd_pu = [(5.7, 0), (7.5, 0)]
H3_zero = [(7.5, 0), (9.6, 0)]
H3_fd2 = [(9.6, 3.3), (11, 3.2), (12.5, 2.6), (14, 1.5), (15.5, 0.8), (17, 1.3), (18.8, 2.7), (20.5, 3.3),
          (22, 2.8), (23.5, 1.5), (25, 0.6), (26.5, 1.2), (28.3, 2.7), (30, 3.3), (31.5, 2.8), (33, 1.4),
          (34.5, 0.5), (36, 1.0), (37.8, 2.8), (39.3, 3.6), (40.8, 3.0), (42.3, 1.4), (43.8, 0.3), (45.2, 0.9),
          (47, 2.9), (48.5, 4.1), (50, 3.3), (51.5, 1.4), (53, 0.1), (54.2, 0.6), (55.7, 3.8)]
H3_ft1 = [(0, 4.1), (1, 2.8), (2.5, 1.9), (5, 1.8), (5.7, 1.9)]
H3_ft_pu = [(5.7, 1.9), (6.6, 2.3), (7.1, 3.0), (7.3, 4.0)]
H3_ft2 = [(9.6, 2.8), (11, 2.3), (13, 1.9), (15.5, 1.8), (18, 2.1), (20.5, 2.6), (23, 2.1), (25.5, 1.8), (28, 2.1),
          (30.5, 2.6), (33, 2.1), (35.5, 1.8), (38, 2.1), (40.5, 2.6), (43, 2.1), (45.5, 1.8), (48, 2.2),
          (50.5, 2.7), (53, 2.1), (54.5, 2.5), (55.7, 4.0)]
PH_pu = [(-2.85, 0), (2.26, 0)]
PH_loops = [(2.26, 0), (2.65, 0.28), (3.01, 0.68), (3.25, 1.08), (3.41, 1.5), (3.52, 1.85), (3.56, 2.21),
            (3.5, 2.65), (3.24, 3.13), (2.9, 3.5), (2.44, 3.85), (1.8, 4.13), (1.06, 4.36), (0.2, 4.48),
            (-0.67, 4.56), (-1.5, 4.59), (-2.28, 4.59), (-2.56, 4.56), (-2.74, 4.5), (-2.84, 4.32), (-2.87, 4.05),
            (-2.85, 3.74), (-2.8, 3.4), (-2.68, 3.03), (-2.5, 2.6), (-2.28, 2.21), (-2.0, 1.83), (-1.7, 1.5),
            (-1.3, 1.2), (-0.9, 0.99), (-0.5, 0.76), (-0.09, 0.6), (0.4, 0.53), (0.83, 0.54), (1.25, 0.63),
            (1.63, 0.79), (2.0, 1.05), (2.32, 1.4), (2.5, 1.8), (2.55, 2.21), (2.48, 2.6), (2.32, 2.93),
            (2.02, 3.16), (1.63, 3.34), (1.1, 3.45), (0.48, 3.5), (-0.2, 3.49), (-0.9, 3.44), (-1.35, 3.33),
            (-1.7, 3.16), (-1.95, 2.92), (-2.05, 2.62), (-2.02, 2.3), (-1.87, 2.01), (-1.6, 1.7), (-1.24, 1.42),
            (-0.8, 1.18), (-0.32, 1.03),
            (0.05, 0.92), (0.4, 0.87), (0.85, 0.9), (1.3, 1.03), (1.65, 1.23), (1.9, 1.52), (2.0, 1.85),
            (1.97, 2.2), (1.8, 2.55), (1.5, 2.83), (1.1, 3.04), (0.65, 3.15), (0.2, 3.2), (-0.3, 3.18), (-0.8, 3.1),
            (-1.2, 2.95), (-1.5, 2.73), (-1.67, 2.48), (-1.7, 2.2), (-1.6, 1.9), (-1.4, 1.62), (-1.1, 1.36),
            (-0.7, 1.14), (-0.3, 1.02),
            (0.05, 0.98), (0.4, 0.95), (0.85, 0.99), (1.25, 1.1), (1.58, 1.3), (1.78, 1.57), (1.85, 1.88),
            (1.82, 2.2), (1.65, 2.52), (1.38, 2.77), (1.0, 2.93), (0.6, 3.02), (0.2, 3.05), (-0.25, 3.04),
            (-0.7, 2.97), (-1.05, 2.84), (-1.32, 2.63), (-1.47, 2.4), (-1.5, 2.15), (-1.4, 1.88), (-1.22, 1.63),
            (-0.95, 1.4), (-0.6, 1.2), (-0.25, 1.07),
            (0.05, 1.02), (0.4, 1.0), (0.8, 1.04), (1.2, 1.15), (1.5, 1.34), (1.68, 1.6), (1.75, 1.9), (1.72, 2.2),
            (1.56, 2.5), (1.3, 2.72), (0.95, 2.86), (0.55, 2.93), (0.2, 2.95), (-0.2, 2.94), (-0.65, 2.88),
            (-0.98, 2.76), (-1.22, 2.58), (-1.37, 2.37), (-1.4, 2.13), (-1.3, 1.88), (-1.13, 1.65), (-0.88, 1.43),
            (-0.55, 1.24), (-0.22, 1.1),
            (0.05, 1.06), (0.4, 1.05), (0.78, 1.09), (1.15, 1.2), (1.42, 1.38), (1.6, 1.63), (1.66, 1.92),
            (1.62, 2.2), (1.47, 2.47), (1.22, 2.67), (0.9, 2.8), (0.55, 2.87), (0.2, 2.9), (-0.2, 2.89),
            (-0.6, 2.83), (-0.92, 2.72), (-1.15, 2.55), (-1.28, 2.35), (-1.3, 2.12), (-1.2, 1.9), (-1.05, 1.68),
            (-0.8, 1.47), (-0.5, 1.3), (-0.2, 1.17), (0.1, 1.12), (0.4, 1.12), (0.75, 1.18), (1.05, 1.32),
            (1.3, 1.52), (1.45, 1.78), (1.48, 2.05), (1.4, 2.32), (1.2, 2.55), (0.9, 2.7), (0.5, 2.8), (0.0, 2.84),
            (-0.45, 2.83), (-0.85, 2.8), (-1.24, 2.78)]
PH_tail = [(-2.85, 3.59), (-1.24, 2.78)]

# ====================== drawing ======================
fig = plt.figure(figsize=(W / 100, H / 100), dpi=100)


def rect(l, t, r, b):
    return [l / W, 1 - b / H, (r - l) / W, (b - t) / H]


def seg(ax, pts, color, ls=SOL, lw=1.5, clip=True, z=3):
    xs = [p[0] for p in pts]
    ys = [p[1] for p in pts]
    sns.lineplot(x=xs, y=ys, sort=False, estimator=None, color=color, linestyle=ls,
                 linewidth=lw, ax=ax, clip_on=clip, zorder=z)


def fmt(v):
    return ('%.1f' % v)


TSC = '#444444'


def ts_axes(left, rows, tmax, tticks, y2lim, y2t, y3lim, y3t, neg0=False, gray3=False, h3=(0, 4.1)):
    axs = []
    for i, (t, b) in enumerate(rows):
        ax = fig.add_axes(rect(left, t, left + 227, b))
        ax.set_xlim(0, tmax)
        ax.tick_params(direction='in', top=True, right=True, length=3, width=0.6,
                       labelsize=8, labelcolor=TSC, pad=2)
        for s in ax.spines.values():
            s.set_linewidth(0.8)
        ax.set_xticks(tticks)
        if i < 2:
            ax.set_xticklabels([])
        axs.append(ax)
    a1, a2, a3 = axs
    a1.set_ylim(-1, 1)
    a1.set_yticks([1, 0, -1])
    a1.set_yticklabels(['1.0', '-0.0' if neg0 else '0.0', '-1.0'])
    a2.set_ylim(*y2lim)
    a2.set_yticks(y2t)
    a2.set_yticklabels([fmt(v) for v in y2t])
    a2.spines['top'].set_color('#999999')
    a2.spines['top'].set_linewidth(1.6)
    a2.plot([0, tmax], [y2lim[0] + 0.02, y2lim[0] + 0.02], ls=':', color='#aaaaaa', lw=0.8, zorder=1)
    a3.set_ylim(*y3lim)
    a3.set_yticks(y3t)
    a3.set_yticklabels([fmt(v) for v in y3t])
    if gray3:
        a3.spines['top'].set_color('#999999')
        a3.spines['top'].set_linewidth(1.6)
    for hv in h3:
        a3.plot([0, tmax], [hv, hv], ls=':', color='#bbbbbb', lw=0.8, zorder=1)
    a3.set_xticklabels([str(v) for v in tticks])
    a1.set_ylabel(r'$y_4 - y_2$ (1)', fontsize=8, color=TSC)
    a2.set_ylabel(r'$y_3$, $y_5$ (1)', fontsize=8, color=TSC)
    a3.set_ylabel(r'$f_\mathrm{c}$, $f_\mathrm{d}$, $f_\mathrm{t}$ (1)', fontsize=8, color=TSC)
    for ax in axs:
        ax.yaxis.set_label_coords(-0.125, 0.5)
    a3.set_xlabel(r'$t$ (1)', fontsize=9, color=TSC, labelpad=1)
    return axs


def ph_axes(l, t, r, b, xlim, ylim, xt, vx, dotcol=LB):
    ax = fig.add_axes(rect(l, t, r, b))
    ax.set_xlim(*xlim)
    ax.set_ylim(*ylim)
    ax.set_xticks(xt)
    ax.set_xticklabels([('%g' % v) for v in xt])
    ax.set_yticks([0, 1, 2, 3, 4])
    ax.set_yticklabels(['0', '1', '2', '3', '4'])
    ax.tick_params(direction='in', top=True, right=True, length=3.5, width=0.6,
                   labelsize=11, labelcolor='#333333', pad=4)
    for s in ax.spines.values():
        s.set_linewidth(1.0)
    ax.plot(list(xlim), [0, 0], ls=':', color='#bbbbbb', lw=0.8, zorder=1)
    ax.plot(list(xlim), [4.1, 4.1], ls=':', color='#bbbbbb', lw=0.8, zorder=1)
    ax.plot([vx, vx], [0, 4.1], ls=':', color='#bbbbbb', lw=0.8, zorder=1)
    ax.plot([vx], [0], 'o', color=dotcol, ms=2.5, zorder=5)
    ax.set_xlabel(r'$y_3$ (1)', fontsize=12, color='#333333', labelpad=3)
    ax.set_ylabel(r'$f_\mathrm{d}$ (1)', fontsize=12, color='#333333')
    ax.yaxis.set_label_coords(-0.115, 0.5)
    return ax


# ---------------- main axes ----------------
ax = fig.add_axes(rect(102, 35, 563, 370))
LW = 2.0
for kx, vy in [(kd_ye1, v0_ye1), (kd_ye2, v0_ye2), (kd_ye3, v0_ye3)]:
    sns.lineplot(x=kx, y=vy, sort=False, estimator=None, color=YE, lw=LW, ax=ax)
sns.lineplot(x=kd_blue, y=v0_blue, sort=False, estimator=None, color=DB, lw=2.2, ax=ax)
sns.lineplot(x=kd_cy_lo, y=v0_cy_lo, sort=False, estimator=None, color=CY, lw=2.0, ax=ax, linestyle=(0, (3, 3)))
sns.lineplot(x=kd_or, y=v0_or, sort=False, estimator=None, color=OR, lw=LW, ax=ax)
sns.lineplot(x=kd_or_d, y=v0_or_d, sort=False, estimator=None, color=OR, lw=LW, ax=ax, linestyle=(0, (3, 2.5)))
sns.lineplot(x=kd_mg, y=v0_mg, sort=False, estimator=None, color=MG, lw=LW, ax=ax, linestyle=(0, (3, 2.5)))
sns.lineplot(x=kd_cy_hi, y=v0_cy_hi, sort=False, estimator=None, color=CY, lw=LW, ax=ax, linestyle=(0, (3, 2.5)))
sns.lineplot(x=kd_bk, y=v0_bk, sort=False, estimator=None, color='black', lw=LW, ax=ax, linestyle=(0, (3, 2.5)))
sns.lineplot(x=kd_gr, y=v0_gr, sort=False, estimator=None, color=GR, lw=LW, ax=ax)
sns.lineplot(x=kd_gr_dot, y=v0_gr_dot, sort=False, estimator=None, color=GR, lw=LW, ax=ax, linestyle=(0, (1, 1.5)))
for kx, vy in [(kd_pu_D, v0_pu_D), (kd_pu_F, v0_pu_F), (kd_pu_G, v0_pu_G), (kd_pu_H, v0_pu_H)]:
    sns.lineplot(x=kx, y=vy, sort=False, estimator=None, color=PU, lw=LW, ax=ax)
ax.plot(pt_kd, pt_v0, 'o', ms=7, mfc='#0000FF', mec='black', mew=1.3, ls='none', zorder=6)
for n, xx, yy in zip(pt_names, lab_kd, lab_v0):
    ax.text(xx, yy, n, fontsize=19, ha='center', va='center')
ax.set_xlim(0, 0.5)
ax.set_ylim(0, 3.5)
ax.set_xticks([0, 0.1, 0.2, 0.3, 0.4, 0.5])
ax.set_xticklabels(['0', '0.1', '0.2', '0.3', '0.4', '0.5'])
ax.set_yticks([0, 0.5, 1, 1.5, 2, 2.5, 3, 3.5])
ax.set_yticklabels(['0', '0.5', '1', '1.5', '2', '2.5', '3', '3.5'])
ax.tick_params(direction='in', top=True, right=True, length=5, width=0.8, labelsize=15, pad=6)
ax.set_xlabel(r'$k_\mathrm{d}$ (1)', fontsize=16)
ax.set_ylabel(r'$v_0$ (1)', fontsize=16)
ax.xaxis.set_label_coords(0.5, -0.085)
ax.yaxis.set_label_coords(-0.10, 0.5)

# legend box (drawn as a small framed panel so its size matches the reference)
lg = fig.add_axes(rect(401, 260, 591, 352))
lg.set_xlim(401, 591)
lg.set_ylim(352, 260)
lg.set_xticks([])
lg.set_yticks([])
lg.set_facecolor('white')
for s in lg.spines.values():
    s.set_linewidth(1.0)
    s.set_color('black')
for i, (c, lab) in enumerate(zip(legend_colors, legend_labels)):
    yy = 272.5 + i * 16.7
    lg.plot([411, 451], [yy, yy], color=c, lw=2.5, solid_capstyle='butt')
    lg.text(458, yy, lab, fontsize=11.5, va='center', ha='left')

# ---------------- panel A ----------------
a1, a2, a3 = ts_axes(662, [(10, 66), (72, 128), (133, 189)], 32.1, [0, 5, 10, 15, 20, 25, 30],
                     (-0.26, 2.14), [0, 1, 2], (-5, 5), [-5, 0, 5], neg0=True, h3=(0, 4.1, -4.1))
seg(a1, A1_ye, YE, clip=False); seg(a1, A1_db, DB, clip=False); seg(a1, A1_lb, LB, clip=False)
seg(a2, A2_ye, YE); seg(a2, A2_db, DB); seg(a2, A2_lb, LB); seg(a2, A2_lbd, LB, DAS); seg(a2, A2_dbd, DB, DAS)
seg(a3, A3_ye, YE); seg(a3, A3_fc, DB); seg(a3, A3_fc_lb, LB); seg(a3, A3_fd, DB, DAS)
seg(a3, A3_ft, DB, DOT); seg(a3, A3_zero, LB, DOT); seg(a3, A3_end, DB, DAS)
p = ph_axes(944, 21, 1163, 177, (-0.257, 2.06), (-0.2, 4.15), [0, 0.5, 1, 1.5, 2], -0.233)
seg(p, PA_ye, YE); seg(p, PA_loop, DB); seg(p, PA_l1, DB); seg(p, PA_l2, DB)

# ---------------- panel B ----------------
b1, b2, b3 = ts_axes(662, [(226, 282), (287, 343), (348, 404)], 25.1, [0, 5, 10, 15, 20, 25],
                     (-1.27, 2.93), [-1, 0, 1, 2], (-4.0, 5.1), [-4, -2, 0, 2, 4])
seg(b1, B1_db1, DB, clip=False); seg(b1, B1_db2, DB, clip=False); seg(b1, B1_lb, LB, clip=False)
seg(b1, B1_ye, YE, clip=False)
seg(b2, B2_db1, DB); seg(b2, B2_lb, LB); seg(b2, B2_lbd, LB, DAS); seg(b2, B2_dbd, DB, DAS)
seg(b2, B2_db2, DB); seg(b2, B2_ye, YE)
seg(b3, B3_fc1, DB); seg(b3, B3_fc_lb, LB); seg(b3, B3_fc2, DB); seg(b3, B3_ye, YE)
seg(b3, B3_fd1, DB, DAS); seg(b3, B3_zero, LB, DOT); seg(b3, B3_fd2, DB, DAS)
seg(b3, B3_ft1, DB, DOT); seg(b3, B3_ftj, DB, DOT); seg(b3, B3_ft2, DB, DOT)
p = ph_axes(944, 235, 1163, 393, (-1.35, 2.88), (-0.22, 4.39), [-1, 0, 1, 2], -1.23)
seg(p, PB_ye, YE); seg(p, PB_outer, DB); seg(p, PB_inner, DB); seg(p, PB_tail, DB)

# ---------------- panel C ----------------
c1, c2, c3 = ts_axes(85, [(441, 497), (502, 557), (563, 619)], 22.0, [0, 5, 10, 15, 20],
                     (-1.56, 3.14), [-1, 0, 1, 2, 3], (-4.0, 5.2), [-4, -2, 0, 2, 4])
seg(c1, C1_db1, DB, clip=False); seg(c1, C1_db2, DB, clip=False); seg(c1, C1_lb, LB, clip=False)
seg(c2, C2_db1, DB); seg(c2, C2_flat, LB, lw=2.2); seg(c2, C2_flat, DB); seg(c2, C2_lbd, LB, DAS)
seg(c2, C2_dbd, DB, DAS); seg(c2, C2_db2, DB)
seg(c3, C3_fc1, DB); seg(c3, C3_fc_lb, LB); seg(c3, C3_fc2, DB); seg(c3, C3_fd1, DB, DAS)
seg(c3, C3_zero, LB, DOT); seg(c3, C3_fd2, DB, DAS); seg(c3, C3_ft1, DB, DOT); seg(c3, C3_ftj, DB, DOT)
seg(c3, C3_ft2, DB, DOT)
p = ph_axes(366, 451, 585, 608, (-1.59, 3.07), (-0.22, 4.37), [-1, 0, 1, 2, 3], -1.44)
seg(p, PC_loop, DB); seg(p, PC_tail, DB)

# ---------------- panel D ----------------
d1, d2, d3 = ts_axes(662, [(441, 497), (502, 557), (563, 619)], 19.7, [0, 5, 10, 15],
                     (-1.8, 3.08), [-1, 0, 1, 2], (-5, 5), [-5, 0, 5], h3=(0, 4.1, -4.1))
seg(d1, D1_db, DB, clip=False); seg(d1, D1_pu, PU, clip=False); seg(d1, D1_lb, LB, clip=False)
seg(d2, D2_db, DB); seg(d2, D2_pu, PU); seg(d2, D2_lb, LB); seg(d2, D2_lbd, LB, DAS)
seg(d3, D3_fc, DB); seg(d3, D3_fc_pu, PU); seg(d3, D3_fc_lb, LB); seg(d3, D3_fd, DB, DAS)
seg(d3, D3_fd_pu, PU, DAS); seg(d3, D3_ft, DB, DOT); seg(d3, D3_ft_pu, PU, DOT); seg(d3, D3_zero, LB, DAS)
p = ph_axes(945, 452, 1163, 608, (-1.67, 2.86), (-0.21, 4.12), [-1, 0, 1, 2], -1.53)
seg(p, PD_pu, PU, lw=1.8); seg(p, PD_loop, DB)

# ---------------- panel E ----------------
e1, e2, e3 = ts_axes(85, [(656, 712), (717, 773), (778, 834)], 23.3, [0, 5, 10, 15, 20],
                     (-1.43, 3.08), [-1, 0, 1, 2, 3], (-4.0, 5.4), [-4, -2, 0, 2, 4], gray3=True)
seg(e1, E1_db1, DB, clip=False); seg(e1, E1_db2, DB, clip=False); seg(e1, E1_lb, LB, clip=False)
seg(e1, E1_ye, YE, clip=False)
seg(e2, E2_db1, DB); seg(e2, E2_lb, LB); seg(e2, E2_lbd, LB, DAS); seg(e2, E2_dbd, DB, DAS)
seg(e2, E2_db2, DB); seg(e2, E2_ye, YE)
seg(e3, E3_fc1, DB); seg(e3, E3_fc_lb, LB); seg(e3, E3_fc2, DB); seg(e3, E3_ye, YE)
seg(e3, E3_fd1, DB, DAS); seg(e3, E3_zero, LB, DOT); seg(e3, E3_fd2, DB, DAS)
seg(e3, E3_ft1, DB, DOT); seg(e3, E3_ftj, DB, DOT); seg(e3, E3_ft2, DB, DOT)
p = ph_axes(366, 666, 585, 822, (-1.58, 3.08), (-0.16, 4.38), [-1, 0, 1, 2, 3], -1.42)
seg(p, PE_ye, YE); seg(p, PE_outer, DB); seg(p, PE_mid, DB); seg(p, PE_tail, DB)

# ---------------- panel F ----------------
f1, f2, f3 = ts_axes(662, [(656, 712), (717, 773), (778, 834)], 27.9, [0, 5, 10, 15, 20, 25],
                     (-2.4, 3.5), [-2, 0, 2], (-4.0, 6.1), [-4, -2, 0, 2, 4], gray3=True)
seg(f1, F1_db1, DB, clip=False); seg(f1, F1_db2, DB, clip=False); seg(f1, F1_pu, PU, clip=False)
seg(f1, F1_lb, LB, clip=False)
seg(f2, F2_db1, DB); seg(f2, F2_pu, PU); seg(f2, F2_pud, PU, DAS); seg(f2, F2_lb, LB)
seg(f2, F2_lbd, LB, DAS); seg(f2, F2_dbd, DB, DAS); seg(f2, F2_db2, DB)
seg(f3, F3_fc1, DB); seg(f3, F3_fc_pu, PU); seg(f3, F3_fc_lb, LB); seg(f3, F3_fc2, DB)
seg(f3, F3_fd1, DB, DAS); seg(f3, F3_fd_pu, PU, DAS); seg(f3, F3_zero, LB, DOT); seg(f3, F3_fd2, DB, DAS)
seg(f3, F3_ft1, DB, DOT); seg(f3, F3_ft_pu, PU, DOT); seg(f3, F3_ft2, DB, DOT)
p = ph_axes(943, 666, 1163, 823, (-2.71, 3.48), (-0.18, 4.57), [-2, 0, 2], -2.48)
seg(p, PF_pu, PU, lw=1.8); seg(p, PF_loop, DB); seg(p, PF_tail, DB)

# ---------------- panel G ----------------
g1, g2, g3 = ts_axes(85, [(870, 927), (932, 987), (993, 1049)], 45.6, [0, 10, 20, 30, 40],
                     (-2.7, 3.75), [-2, 0, 2], (-4.0, 6.1), [-4, -2, 0, 2, 4, 6])
seg(g1, G1_db1, DB, clip=False); seg(g1, G1_db2, DB, clip=False); seg(g1, G1_pu, PU, clip=False)
seg(g1, G1_lb, LB, clip=False); seg(g1, G1_ye, YE, clip=False)
seg(g2, G2_db1, DB); seg(g2, G2_pu, PU); seg(g2, G2_pud, PU, DAS); seg(g2, G2_lb, LB)
seg(g2, G2_lbd, LB, DAS); seg(g2, G2_dbd, DB, DAS); seg(g2, G2_db2, DB); seg(g2, G2_ye, YE)
seg(g3, G3_fc1, DB); seg(g3, G3_fc_pu, PU); seg(g3, G3_fc_lb, LB); seg(g3, G3_fc2, DB); seg(g3, G3_ye, YE)
seg(g3, G3_fd1, DB, DAS); seg(g3, G3_fd_pu, PU, DAS); seg(g3, G3_zero, LB, DOT); seg(g3, G3_fd2, DB, DAS)
seg(g3, G3_ft1, DB, DOT); seg(g3, G3_ft_pu, PU, DOT); seg(g3, G3_ft2, DB, DOT)
p = ph_axes(366, 879, 585, 1038, (-3.04, 3.6), (-0.23, 4.66), [-2, 0, 2], -2.76)
seg(p, PG_ye, YE); seg(p, PG_pu, PU, lw=1.8); seg(p, PG_outer, DB); seg(p, PG_loops, DB); seg(p, PG_tail, DB)

# ---------------- panel H ----------------
h1, h2, h3 = ts_axes(662, [(872, 928), (933, 988), (994, 1050)], 55.7, [0, 10, 20, 30, 40, 50],
                     (-3.2, 3.65), [-2, 0, 2], (-4.0, 6.2), [-4, -2, 0, 2, 4, 6])
seg(h1, H1_db1, DB, clip=False); seg(h1, H1_db2, DB, clip=False); seg(h1, H1_pu, PU, clip=False)
seg(h1, H1_lb, LB, clip=False)
seg(h2, H2_db1, DB); seg(h2, H2_pu, PU); seg(h2, H2_pud, PU, DAS); seg(h2, H2_lb, LB)
seg(h2, H2_lbd, LB, DAS); seg(h2, H2_dbd, DB, DAS); seg(h2, H2_db2, DB)
seg(h3, H3_fc1, DB); seg(h3, H3_fc_pu, PU); seg(h3, H3_fc_lb, LB); seg(h3, H3_fc2, DB)
seg(h3, H3_fd1, DB, DAS); seg(h3, H3_fd_pu, PU, DAS); seg(h3, H3_zero, LB, DOT); seg(h3, H3_fd2, DB, DAS)
seg(h3, H3_ft1, DB, DOT); seg(h3, H3_ft_pu, PU, DOT); seg(h3, H3_ft2, DB, DOT)
p = ph_axes(953, 882, 1163, 1039, (-2.87, 3.6), (-0.21, 4.61), [-2, 0, 2], -2.85)
seg(p, PH_pu, PU, lw=1.8); seg(p, PH_loops, DB); seg(p, PH_tail, DB)

# panel letters
for txt, x, y in [('(C)', 24, 442), ('(D)', 604, 437), ('(E)', 24, 665), ('(F)', 604, 658),
                  ('(G)', 24, 872), ('(H)', 604, 875)]:
    fig.text(x / W, 1 - y / H, txt, fontsize=16, ha='center', va='center')

fig.savefig('out.png', dpi=100)
